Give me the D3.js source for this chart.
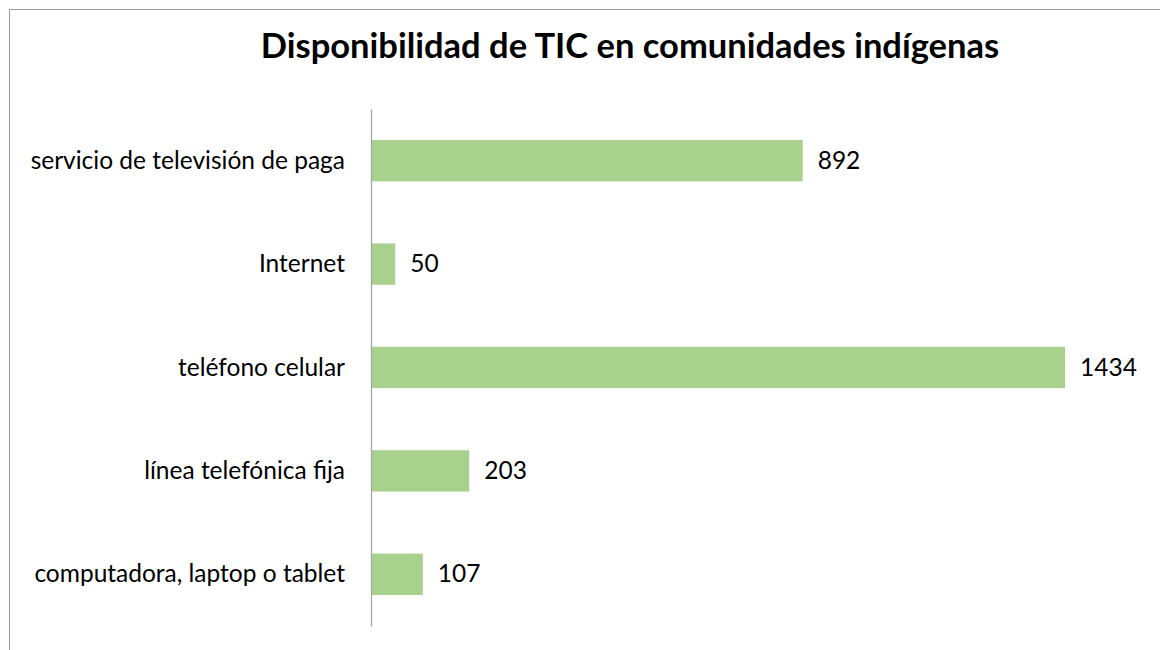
<!DOCTYPE html>
<html>
<head>
<meta charset="utf-8">
<script src="https://cdn.jsdelivr.net/npm/d3@7"></script>
<style>
  body { margin: 0; background: #fff; }
  svg { display: block; font-family: Lato, "Open Sans", sans-serif; }
</style>
</head>
<body>
<svg width="1160" height="650"></svg>
<script>
const categories = [
    "servicio de televisión de paga",
    "Internet",
    "teléfono celular",
    "línea telefónica fija",
    "computadora, laptop o tablet"
];
const values = [892, 50, 1434, 203, 107];
const title = "Disponibilidad de TIC en comunidades indígenas";

const svg = d3.select("svg");
const width = +svg.attr("width");
const height = +svg.attr("height");

const data = categories.map((c, i) => ({ category: c, value: values[i] }));

const margin = { top: 109, right: 95, bottom: 24, left: 371 };
const innerWidth = width - margin.left - margin.right;
const innerHeight = height - margin.top - margin.bottom;

// chart frame: only top and left edges are visible in the picture
svg.append("path")
    .attr("d", `M9.5,${height} V9.5 H${width}`)
    .attr("fill", "none")
    .attr("stroke", "#9a9a9a");

svg.append("text")
    .attr("x", 630).attr("y", 58)
    .attr("text-anchor", "middle")
    .attr("font-size", 34.5)
    .attr("font-weight", "bold")
    .attr("fill", "#000")
    .text(title);

const xScale = d3.scaleLinear()
    .domain([0, 1434])
    .range([0, 694]);

const yScale = d3.scaleBand()
    .domain(categories)
    .range([0, innerHeight])
    .paddingInner(0.6)
    .paddingOuter(0.3);

const g = svg.append("g")
    .attr("transform", `translate(${margin.left}, ${margin.top})`);

g.selectAll("rect.bar").data(data)
    .enter().append("rect")
        .attr("class", "bar")
        .attr("x", 0)
        .attr("y", d => yScale(d.category))
        .attr("width", d => xScale(d.value))
        .attr("height", yScale.bandwidth())
        .attr("fill", "#a9d18e");

// category axis: only the line, labels drawn below
const yAxis = g.append("g").call(d3.axisLeft(yScale).tickSizeOuter(0).tickValues([]));
yAxis.select(".domain").attr("stroke", "#a6a6a6").attr("stroke-width", 1.3);

const mid = d => yScale(d.category) + yScale.bandwidth() / 2 + 8;

g.selectAll("text.cat").data(data)
    .enter().append("text")
        .attr("class", "cat")
        .attr("x", -26)
        .attr("y", mid)
        .attr("text-anchor", "end")
        .attr("font-size", 24.5)
        .attr("fill", "#000")
        .text(d => d.category);

// value labels
g.selectAll("text.val").data(data)
    .enter().append("text")
        .attr("class", "val")
        .attr("x", d => xScale(d.value) + 15)
        .attr("y", mid)
        .attr("font-size", 24.5)
        .attr("fill", "#000")
        .text(d => d.value);
</script>
</body>
</html>
